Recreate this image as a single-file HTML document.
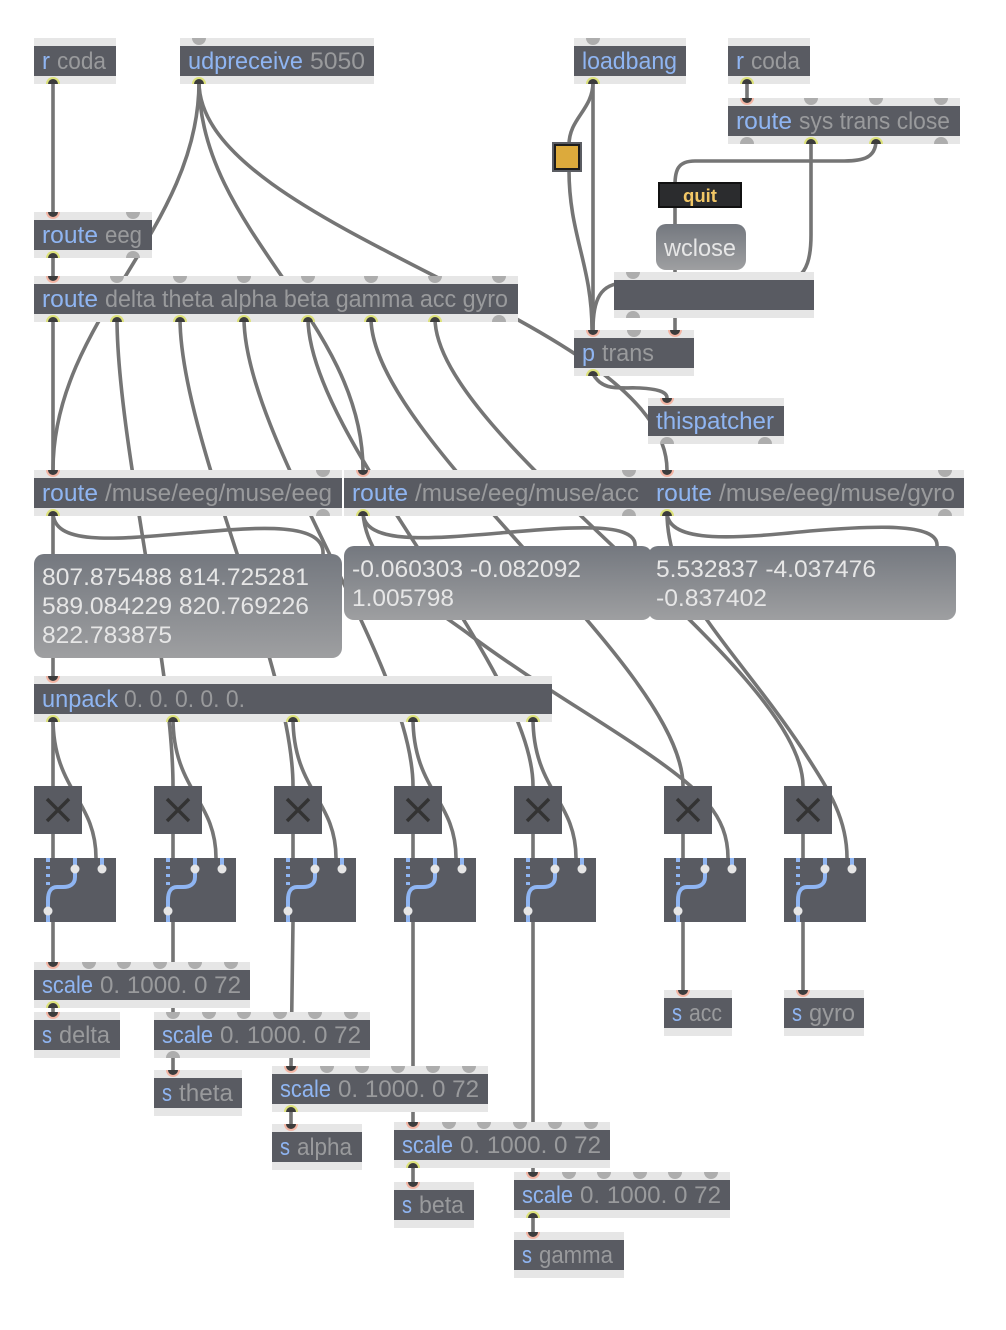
<!DOCTYPE html>
<html><head><meta charset="utf-8"><style>
html,body{margin:0;padding:0;background:#fff}
svg{display:block}
text{font-family:"Liberation Sans",sans-serif;font-size:24px}
.b{fill:#8fb5f2}.g{fill:#999a9c}
.w path{fill:none;stroke:#757575;stroke-width:3.6;stroke-linecap:round}
.band{fill:#e6e6e6}.dark{fill:#595b62}
.m{fill:#e6e6e6;font-size:24px}
.blue{fill:none;stroke:#8fb5f2;stroke-width:4}
.x{stroke:#333;stroke-width:3.5;stroke-linecap:butt}
</style></head><body>
<svg width="1006" height="1330" viewBox="0 0 1006 1330" xmlns="http://www.w3.org/2000/svg">
<defs>
<linearGradient id="gr" x1="0" y1="0" x2="0" y2="1"><stop offset="0" stop-color="#74787f"/><stop offset="1" stop-color="#9e9fa1"/></linearGradient>
<g id="ig"><path d="M-7,0A7,7 0 0 0 7,0Z" fill="#adadad"/></g>
<g id="og"><path d="M-7,0A7,7 0 0 1 7,0Z" fill="#adadad"/></g>
<g id="ic"><path d="M-7,0A7,7 0 0 0 7,0Z" fill="#f3b5a4"/><path d="M-5,0A5,5 0 0 0 5,0Z" fill="#3c3c3c"/></g>
<g id="oc"><path d="M-7,0A7,7 0 0 1 7,0Z" fill="#dde27a"/><path d="M-5,0A5,5 0 0 1 5,0Z" fill="#3c3c3c"/></g>
<g id="mx">
<rect width="82" height="64" class="dark"/>
<path d="M14,0V4M14,8V11M14,16V19M14,24V27" stroke="#8fb5f2" stroke-width="4"/>
<path d="M41,0V19C41,26 36,29 29,29H23C17,29 14,34 14,42V64" class="blue"/>
<path d="M68,0V11" class="blue"/>
<circle cx="41" cy="11" r="4.5" fill="#e6e6e6"/><circle cx="68" cy="11" r="4.5" fill="#e6e6e6"/><circle cx="14" cy="53" r="4.5" fill="#e6e6e6"/>
</g>
<g id="xb">
<rect width="48" height="48" class="dark"/>
<path d="M13,13L35,35M35,13L13,35" class="x"/>
</g>
</defs>

<g class="w">
<path d="M53,80V212"/>
<path d="M199,82C199,230 53,320 53,470"/>
<path d="M199,82C199,230 363,320 363,470"/>
<path d="M199,82C199,230 667,320 667,470"/>
<path d="M53,256V276"/>
<path d="M53,318V786"/>
<path d="M117,318C117,438 173,666 173,786"/>
<path d="M180,318C180,438 293,666 293,786"/>
<path d="M244,318C244,438 413,666 413,786"/>
<path d="M308,318C308,438 533,666 533,786"/>
<path d="M371,318C371,438 683,666 683,786"/>
<path d="M435,318C435,438 803,666 803,786"/>
<path d="M53,512C53,545 110,540 190,533C250,528 325,520 323,554"/>
<path d="M363,512C363,545 430,539 500,533C560,528 637,520 635,546"/>
<path d="M667,512C667,545 740,538 810,531C870,526 939,522 937,546"/>
<path d="M363,512C366,570 430,605 470,635C530,680 600,720 650,755C700,790 728,815 728,858"/>
<path d="M667,512C667,545 680,585 707,620C735,660 770,700 803,750C825,785 847,815 847,858"/>
<path d="M53,718C53,790 96,800 96,858"/>
<path d="M173,718C173,790 216,800 216,858"/>
<path d="M293,718C293,790 336,800 336,858"/>
<path d="M413,718C413,790 456,800 456,858"/>
<path d="M533,718C533,790 576,800 576,858"/>
<path d="M53,834V858M173,834V858M293,834V858M413,834V858M533,834V858M683,834V858M803,834V858"/>
<path d="M53,922V962"/>
<path d="M173,922V1012"/>
<path d="M293,922L291,1066"/>
<path d="M413,922V1122"/>
<path d="M533,922V1172"/>
<path d="M683,922V990"/>
<path d="M803,922V990"/>
<path d="M53,1004V1012M173,1054V1070M291,1108V1124M413,1164V1182M533,1214V1232"/>
<path d="M593,80V330"/>
<path d="M593,82C593,110 569,118 569,145"/>
<path d="M569,170C569,235 592,265 592,330"/>
<path d="M747,80V98"/>
<path d="M811,140V235C811,285 790,283 760,283H625C600,283 593,300 593,330"/>
<path d="M876,140C876,160 860,161 840,161H695C678,161 675,170 675,185V330"/>
<path d="M593,374C603,392 620,387 640,388C658,389 667,392 667,398"/>
</g>

<!-- boxes -->
<g>
<rect x="34" y="38" width="82" height="46" class="band"/><rect x="34" y="46" width="82" height="30" class="dark"/>
<rect x="180" y="38" width="194" height="46" class="band"/><rect x="180" y="46" width="194" height="30" class="dark"/>
<rect x="574" y="38" width="112" height="46" class="band"/><rect x="574" y="46" width="112" height="30" class="dark"/>
<rect x="728" y="38" width="82" height="46" class="band"/><rect x="728" y="46" width="82" height="30" class="dark"/>
<rect x="728" y="98" width="232" height="46" class="band"/><rect x="728" y="106" width="232" height="30" class="dark"/>
<rect x="614" y="272" width="200" height="46" class="band"/><rect x="614" y="280" width="200" height="30" class="dark"/>
<rect x="574" y="330" width="120" height="46" class="band"/><rect x="574" y="338" width="120" height="30" class="dark"/>
<rect x="648" y="398" width="136" height="46" class="band"/><rect x="648" y="406" width="136" height="30" class="dark"/>
<rect x="34" y="212" width="118" height="46" class="band"/><rect x="34" y="220" width="118" height="30" class="dark"/>
<rect x="34" y="276" width="484" height="46" class="band"/><rect x="34" y="284" width="484" height="30" class="dark"/>
<rect x="34" y="470" width="308" height="46" class="band"/><rect x="34" y="478" width="308" height="30" class="dark"/>
<rect x="344" y="470" width="304" height="46" class="band"/><rect x="344" y="478" width="304" height="30" class="dark"/>
<rect x="648" y="470" width="316" height="46" class="band"/><rect x="648" y="478" width="316" height="30" class="dark"/>
<rect x="34" y="676" width="518" height="46" class="band"/><rect x="34" y="684" width="518" height="30" class="dark"/>
<rect x="34" y="962" width="216" height="46" class="band"/><rect x="34" y="970" width="216" height="30" class="dark"/>
<rect x="34" y="1012" width="86" height="46" class="band"/><rect x="34" y="1020" width="86" height="30" class="dark"/>
<rect x="154" y="1012" width="216" height="46" class="band"/><rect x="154" y="1020" width="216" height="30" class="dark"/>
<rect x="154" y="1070" width="88" height="46" class="band"/><rect x="154" y="1078" width="88" height="30" class="dark"/>
<rect x="272" y="1066" width="216" height="46" class="band"/><rect x="272" y="1074" width="216" height="30" class="dark"/>
<rect x="272" y="1124" width="90" height="46" class="band"/><rect x="272" y="1132" width="90" height="30" class="dark"/>
<rect x="394" y="1122" width="216" height="46" class="band"/><rect x="394" y="1130" width="216" height="30" class="dark"/>
<rect x="394" y="1182" width="80" height="46" class="band"/><rect x="394" y="1190" width="80" height="30" class="dark"/>
<rect x="514" y="1172" width="216" height="46" class="band"/><rect x="514" y="1180" width="216" height="30" class="dark"/>
<rect x="514" y="1232" width="110" height="46" class="band"/><rect x="514" y="1240" width="110" height="30" class="dark"/>
<rect x="664" y="990" width="68" height="46" class="band"/><rect x="664" y="998" width="68" height="30" class="dark"/>
<rect x="784" y="990" width="80" height="46" class="band"/><rect x="784" y="998" width="80" height="30" class="dark"/>

<rect x="34" y="554" width="308" height="104" rx="10" fill="url(#gr)"/>
<rect x="344" y="546" width="308" height="74" rx="10" fill="url(#gr)"/>
<rect x="648" y="546" width="308" height="74" rx="10" fill="url(#gr)"/>
<rect x="656" y="224" width="90" height="46" rx="10" fill="url(#gr)"/>

<rect x="659" y="183" width="82" height="24" fill="#2b2c2e" stroke="#111" stroke-width="2"/>

<rect x="553" y="143" width="28" height="28" fill="#1c1c1c" stroke="#5b5d63" stroke-width="2"/>
<rect x="556" y="146" width="22" height="22" fill="#dcaa3c"/>

<use href="#xb" x="34" y="786"/><use href="#xb" x="154" y="786"/><use href="#xb" x="274" y="786"/><use href="#xb" x="394" y="786"/><use href="#xb" x="514" y="786"/><use href="#xb" x="664" y="786"/><use href="#xb" x="784" y="786"/>
<use href="#mx" x="34" y="858"/><use href="#mx" x="154" y="858"/><use href="#mx" x="274" y="858"/><use href="#mx" x="394" y="858"/><use href="#mx" x="514" y="858"/><use href="#mx" x="664" y="858"/><use href="#mx" x="784" y="858"/>
</g>

<!-- ports -->
<g>
<use href="#oc" x="53" y="84"/><use href="#ig" x="199" y="38"/><use href="#oc" x="199" y="84"/>
<use href="#ig" x="593" y="38"/><use href="#oc" x="593" y="84"/><use href="#oc" x="747" y="84"/>
<use href="#ic" x="747" y="98"/><use href="#ig" x="811" y="98"/><use href="#ig" x="876" y="98"/><use href="#ig" x="941" y="98"/>
<use href="#og" x="747" y="144"/><use href="#oc" x="811" y="144"/><use href="#oc" x="876" y="144"/><use href="#og" x="941" y="144"/>
<use href="#ic" x="53" y="212"/><use href="#ig" x="133" y="212"/><use href="#oc" x="53" y="258"/><use href="#og" x="133" y="258"/>
<use href="#ic" x="53" y="276"/><use href="#ig" x="117" y="276"/><use href="#ig" x="180" y="276"/><use href="#ig" x="244" y="276"/><use href="#ig" x="308" y="276"/><use href="#ig" x="371" y="276"/><use href="#ig" x="435" y="276"/><use href="#ig" x="499" y="276"/>
<use href="#oc" x="53" y="322"/><use href="#oc" x="117" y="322"/><use href="#oc" x="180" y="322"/><use href="#oc" x="244" y="322"/><use href="#oc" x="308" y="322"/><use href="#oc" x="371" y="322"/><use href="#oc" x="435" y="322"/><use href="#og" x="499" y="322"/>
<use href="#ig" x="633" y="272"/><use href="#og" x="633" y="318"/>
<use href="#ic" x="593" y="330"/><use href="#ig" x="634" y="330"/><use href="#ic" x="675" y="330"/><use href="#oc" x="593" y="376"/>
<use href="#ic" x="667" y="398"/><use href="#og" x="667" y="444"/><use href="#og" x="765" y="444"/>
<use href="#ic" x="53" y="470"/><use href="#ig" x="323" y="470"/><use href="#oc" x="53" y="516"/><use href="#og" x="323" y="516"/>
<use href="#ic" x="363" y="470"/><use href="#ig" x="629" y="470"/><use href="#oc" x="363" y="516"/><use href="#og" x="629" y="516"/>
<use href="#ic" x="667" y="470"/><use href="#ig" x="945" y="470"/><use href="#oc" x="667" y="516"/><use href="#og" x="945" y="516"/>
<use href="#ic" x="53" y="676"/><use href="#oc" x="53" y="722"/><use href="#oc" x="173" y="722"/><use href="#oc" x="293" y="722"/><use href="#oc" x="413" y="722"/><use href="#oc" x="533" y="722"/>
<use href="#ic" x="53" y="962"/><use href="#ig" x="89" y="962"/><use href="#ig" x="124" y="962"/><use href="#ig" x="160" y="962"/><use href="#ig" x="195" y="962"/><use href="#ig" x="231" y="962"/><use href="#oc" x="53" y="1008"/>
<use href="#ic" x="53" y="1012"/>
<use href="#ig" x="173" y="1012"/><use href="#ig" x="209" y="1012"/><use href="#ig" x="244" y="1012"/><use href="#ig" x="280" y="1012"/><use href="#ig" x="315" y="1012"/><use href="#ig" x="351" y="1012"/><use href="#og" x="173" y="1058"/>
<use href="#ic" x="173" y="1070"/>
<use href="#ic" x="291" y="1066"/><use href="#ig" x="327" y="1066"/><use href="#ig" x="362" y="1066"/><use href="#ig" x="398" y="1066"/><use href="#ig" x="433" y="1066"/><use href="#ig" x="469" y="1066"/><use href="#oc" x="291" y="1112"/>
<use href="#ic" x="291" y="1124"/>
<use href="#ic" x="413" y="1122"/><use href="#ig" x="449" y="1122"/><use href="#ig" x="484" y="1122"/><use href="#ig" x="520" y="1122"/><use href="#ig" x="555" y="1122"/><use href="#ig" x="591" y="1122"/><use href="#oc" x="413" y="1168"/>
<use href="#ic" x="413" y="1182"/>
<use href="#ic" x="533" y="1172"/><use href="#ig" x="569" y="1172"/><use href="#ig" x="604" y="1172"/><use href="#ig" x="640" y="1172"/><use href="#ig" x="675" y="1172"/><use href="#ig" x="711" y="1172"/><use href="#oc" x="533" y="1218"/>
<use href="#ic" x="533" y="1232"/>
<use href="#ic" x="683" y="990"/><use href="#ic" x="803" y="990"/>
</g>

<!-- text -->
<g>
<text x="42" y="69" class="b" textLength="8" lengthAdjust="spacingAndGlyphs">r</text><text x="57" y="69" class="g" textLength="49" lengthAdjust="spacingAndGlyphs">coda</text>
<text x="188" y="69" class="b" textLength="115" lengthAdjust="spacingAndGlyphs">udpreceive</text><text x="310" y="69" class="g" textLength="55" lengthAdjust="spacingAndGlyphs">5050</text>
<text x="582" y="69" class="b" textLength="95" lengthAdjust="spacingAndGlyphs">loadbang</text>
<text x="736" y="69" class="b" textLength="8" lengthAdjust="spacingAndGlyphs">r</text><text x="751" y="69" class="g" textLength="49" lengthAdjust="spacingAndGlyphs">coda</text>
<text x="736" y="129" class="b" textLength="56" lengthAdjust="spacingAndGlyphs">route</text><text x="799" y="129" class="g" textLength="151" lengthAdjust="spacingAndGlyphs">sys trans close</text>
<text x="42" y="243" class="b" textLength="56" lengthAdjust="spacingAndGlyphs">route</text><text x="105" y="243" class="g" textLength="37" lengthAdjust="spacingAndGlyphs">eeg</text>
<text x="42" y="307" class="b" textLength="56" lengthAdjust="spacingAndGlyphs">route</text><text x="105" y="307" class="g" textLength="403" lengthAdjust="spacingAndGlyphs">delta theta alpha beta gamma acc gyro</text>
<text x="582" y="361" class="b" textLength="13" lengthAdjust="spacingAndGlyphs">p</text><text x="602" y="361" class="g" textLength="52" lengthAdjust="spacingAndGlyphs">trans</text>
<text x="656" y="429" class="b" textLength="118" lengthAdjust="spacingAndGlyphs">thispatcher</text>
<text x="42" y="501" class="b" textLength="56" lengthAdjust="spacingAndGlyphs">route</text><text x="105" y="501" class="g" textLength="227" lengthAdjust="spacingAndGlyphs">/muse/eeg/muse/eeg</text>
<text x="352" y="501" class="b" textLength="56" lengthAdjust="spacingAndGlyphs">route</text><text x="415" y="501" class="g" textLength="224" lengthAdjust="spacingAndGlyphs">/muse/eeg/muse/acc</text>
<text x="656" y="501" class="b" textLength="56" lengthAdjust="spacingAndGlyphs">route</text><text x="719" y="501" class="g" textLength="236" lengthAdjust="spacingAndGlyphs">/muse/eeg/muse/gyro</text>
<text x="42" y="707" class="b" textLength="76" lengthAdjust="spacingAndGlyphs">unpack</text><text x="124" y="707" class="g" textLength="121" lengthAdjust="spacingAndGlyphs">0. 0. 0. 0. 0.</text>

<text x="42" y="993" class="b" textLength="51" lengthAdjust="spacingAndGlyphs">scale</text><text x="100" y="993" class="g" textLength="141" lengthAdjust="spacingAndGlyphs">0. 1000. 0 72</text>
<text x="42" y="1043" class="b" textLength="10" lengthAdjust="spacingAndGlyphs">s</text><text x="59" y="1043" class="g" textLength="51" lengthAdjust="spacingAndGlyphs">delta</text>
<text x="162" y="1043" class="b" textLength="51" lengthAdjust="spacingAndGlyphs">scale</text><text x="220" y="1043" class="g" textLength="141" lengthAdjust="spacingAndGlyphs">0. 1000. 0 72</text>
<text x="162" y="1101" class="b" textLength="10" lengthAdjust="spacingAndGlyphs">s</text><text x="179" y="1101" class="g" textLength="54" lengthAdjust="spacingAndGlyphs">theta</text>
<text x="280" y="1097" class="b" textLength="51" lengthAdjust="spacingAndGlyphs">scale</text><text x="338" y="1097" class="g" textLength="141" lengthAdjust="spacingAndGlyphs">0. 1000. 0 72</text>
<text x="280" y="1155" class="b" textLength="10" lengthAdjust="spacingAndGlyphs">s</text><text x="297" y="1155" class="g" textLength="55" lengthAdjust="spacingAndGlyphs">alpha</text>
<text x="402" y="1153" class="b" textLength="51" lengthAdjust="spacingAndGlyphs">scale</text><text x="460" y="1153" class="g" textLength="141" lengthAdjust="spacingAndGlyphs">0. 1000. 0 72</text>
<text x="402" y="1213" class="b" textLength="10" lengthAdjust="spacingAndGlyphs">s</text><text x="419" y="1213" class="g" textLength="45" lengthAdjust="spacingAndGlyphs">beta</text>
<text x="522" y="1203" class="b" textLength="51" lengthAdjust="spacingAndGlyphs">scale</text><text x="580" y="1203" class="g" textLength="141" lengthAdjust="spacingAndGlyphs">0. 1000. 0 72</text>
<text x="522" y="1263" class="b" textLength="10" lengthAdjust="spacingAndGlyphs">s</text><text x="539" y="1263" class="g" textLength="74" lengthAdjust="spacingAndGlyphs">gamma</text>
<text x="672" y="1021" class="b" textLength="10" lengthAdjust="spacingAndGlyphs">s</text><text x="689" y="1021" class="g" textLength="33" lengthAdjust="spacingAndGlyphs">acc</text>
<text x="792" y="1021" class="b" textLength="10" lengthAdjust="spacingAndGlyphs">s</text><text x="809" y="1021" class="g" textLength="46" lengthAdjust="spacingAndGlyphs">gyro</text>

<text x="683" y="202" style="font-size:18px;font-weight:bold;fill:#f2c766" textLength="34" lengthAdjust="spacingAndGlyphs">quit</text>
<text x="664" y="256" class="m" textLength="72" lengthAdjust="spacingAndGlyphs">wclose</text>
<text x="42" y="585" class="m" textLength="267" lengthAdjust="spacingAndGlyphs">807.875488 814.725281</text>
<text x="42" y="614" class="m" textLength="267" lengthAdjust="spacingAndGlyphs">589.084229 820.769226</text>
<text x="42" y="643" class="m" textLength="130" lengthAdjust="spacingAndGlyphs">822.783875</text>
<text x="352" y="577" class="m" textLength="229" lengthAdjust="spacingAndGlyphs">-0.060303 -0.082092</text>
<text x="352" y="606" class="m" textLength="102" lengthAdjust="spacingAndGlyphs">1.005798</text>
<text x="656" y="577" class="m" textLength="220" lengthAdjust="spacingAndGlyphs">5.532837 -4.037476</text>
<text x="656" y="606" class="m" textLength="111" lengthAdjust="spacingAndGlyphs">-0.837402</text>
</g>
</svg>
</body></html>
